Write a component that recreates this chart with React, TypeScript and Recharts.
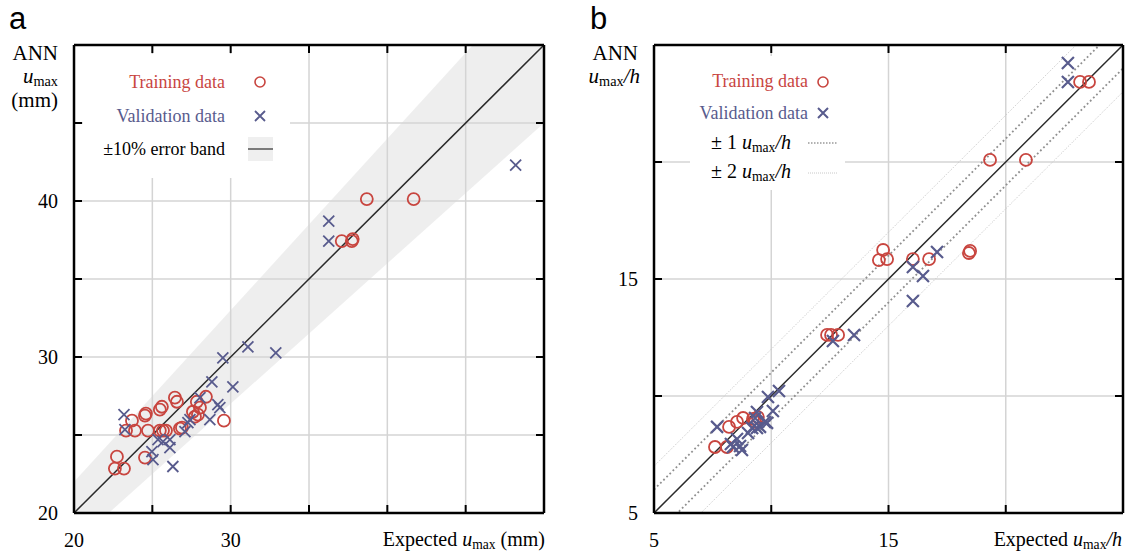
import React from "react";
import {
  ComposedChart,
  Scatter,
  Line,
  Area,
  XAxis,
  YAxis,
  ReferenceLine,
} from "recharts";

// panel a: u_max in mm
const trainingA = [
  { x: 22.74, y: 23.61 }, { x: 22.61, y: 22.85 }, { x: 23.19, y: 22.85 },
  { x: 23.32, y: 25.28 }, { x: 23.7, y: 25.92 }, { x: 23.89, y: 25.28 },
  { x: 24.53, y: 26.24 }, { x: 24.59, y: 26.37 }, { x: 24.72, y: 25.28 },
  { x: 24.53, y: 23.55 }, { x: 25.48, y: 26.62 }, { x: 25.61, y: 26.81 },
  { x: 26.44, y: 27.39 }, { x: 26.57, y: 27.13 }, { x: 25.48, y: 25.28 },
  { x: 25.68, y: 25.28 }, { x: 25.87, y: 25.28 }, { x: 26.76, y: 25.41 },
  { x: 26.89, y: 25.47 }, { x: 27.59, y: 26.49 }, { x: 27.84, y: 27.13 },
  { x: 28.04, y: 26.75 }, { x: 27.72, y: 26.17 }, { x: 27.91, y: 26.3 },
  { x: 28.42, y: 27.45 }, { x: 29.57, y: 25.92 }, { x: 38.69, y: 40.12 },
  { x: 41.68, y: 40.12 }, { x: 37.09, y: 37.43 }, { x: 37.73, y: 37.43 },
  { x: 37.79, y: 37.56 },
];

const validationA = [
  { x: 23.19, y: 26.3 }, { x: 23.25, y: 25.34 }, { x: 25.36, y: 24.7 },
  { x: 25.68, y: 24.57 }, { x: 24.97, y: 23.93 }, { x: 25.04, y: 23.42 },
  { x: 26.12, y: 24.7 }, { x: 26.12, y: 24.19 }, { x: 26.31, y: 22.98 },
  { x: 27.08, y: 25.21 }, { x: 27.27, y: 25.79 }, { x: 27.4, y: 25.98 },
  { x: 28.04, y: 27.39 }, { x: 28.67, y: 25.98 }, { x: 29.18, y: 26.94 },
  { x: 29.31, y: 26.75 }, { x: 30.14, y: 28.09 }, { x: 28.8, y: 28.41 },
  { x: 29.5, y: 29.95 }, { x: 31.1, y: 30.65 }, { x: 32.88, y: 30.27 },
  { x: 36.26, y: 38.71 }, { x: 36.26, y: 37.43 }, { x: 48.19, y: 42.3 },
];

// panel b: u_max / h
const trainingB = [
  { x: 7.6, y: 7.82 }, { x: 8.11, y: 7.82 }, { x: 8.2, y: 8.68 },
  { x: 8.54, y: 8.89 }, { x: 8.8, y: 9.06 }, { x: 9.22, y: 9.02 },
  { x: 9.43, y: 9.1 }, { x: 9.31, y: 8.89 }, { x: 12.38, y: 12.61 },
  { x: 12.55, y: 12.61 }, { x: 12.85, y: 12.61 }, { x: 14.59, y: 15.81 },
  { x: 14.77, y: 16.24 }, { x: 14.94, y: 15.85 }, { x: 16.04, y: 15.85 },
  { x: 16.73, y: 15.85 }, { x: 18.48, y: 16.2 }, { x: 18.43, y: 16.11 },
  { x: 19.33, y: 20.09 }, { x: 20.86, y: 20.09 }, { x: 23.17, y: 23.42 },
  { x: 23.55, y: 23.42 },
];

const validationB = [
  { x: 7.69, y: 8.68 }, { x: 8.28, y: 7.95 }, { x: 8.37, y: 7.82 },
  { x: 8.54, y: 8.16 }, { x: 8.75, y: 7.69 }, { x: 8.67, y: 7.86 },
  { x: 9.01, y: 8.42 }, { x: 9.18, y: 8.63 }, { x: 9.39, y: 8.63 },
  { x: 9.31, y: 9.06 }, { x: 9.39, y: 9.32 }, { x: 9.52, y: 8.68 },
  { x: 9.73, y: 8.89 }, { x: 9.82, y: 8.85 }, { x: 10.07, y: 9.36 },
  { x: 9.86, y: 9.96 }, { x: 10.33, y: 10.21 }, { x: 12.63, y: 12.35 },
  { x: 13.53, y: 12.61 }, { x: 16.04, y: 14.06 }, { x: 16.04, y: 15.51 },
  { x: 16.47, y: 15.13 }, { x: 17.07, y: 16.15 }, { x: 22.65, y: 24.23 },
  { x: 22.65, y: 23.42 },
];

const domainA: [number, number] = [20, 50];
const gridA = [20, 25, 30, 35, 40, 45, 50];
const xLabelsA = [20, 30];
const yLabelsA = [20, 30, 40];

const domainB: [number, number] = [5, 25];
const gridB = [5, 10, 15, 20, 25];
const xLabelsB = [5, 15];
const yLabelsB = [5, 15];

const bandPct = 0.1;
const offsetsB = [1, 2];

// reference lines / band, evaluated at the domain ends
const refA = domainA.map((x) => ({
  x,
  diag: x,
  band: [x * (1 - bandPct), x * (1 + bandPct)],
}));
const refB = domainB.map((x) => ({
  x,
  diag: x,
  p1: x + offsetsB[0],
  m1: x - offsetsB[0],
  p2: x + offsetsB[1],
  m2: x - offsetsB[1],
}));

const RED = "#c8453f";
const BLUE = "#585b8d";
const SERIF = '"Liberation Serif", "Times New Roman", serif';
const SANS = '"Liberation Sans", Arial, sans-serif';

const tickFont = { fill: "#000", fontSize: 20, fontFamily: SERIF };
const serif = { fontFamily: SERIF };
const GRID = "#d4d4d4";

const ring = (r: number, w: number) => (p: any) =>
  <circle cx={p.cx} cy={p.cy} r={r} fill="none" stroke={RED} strokeWidth={w} />;

const cross = (s: number, w: number) => (p: any) =>
  (
    <path
      d={`M${p.cx - s},${p.cy - s}L${p.cx + s},${p.cy + s}M${p.cx - s},${p.cy + s}L${p.cx + s},${p.cy - s}`}
      stroke={BLUE}
      strokeWidth={w}
      fill="none"
    />
  );

const noLabel = () => <g />;

// tiny non-zero sizes: axes with 0 width/height are not drawn at all
const THIN = 0.01;

function gridLines(grid: number[]) {
  return [
    ...grid.map((v) => (
      <ReferenceLine key={"gx" + v} x={v} stroke={GRID} strokeWidth={1.5} ifOverflow="visible" />
    )),
    ...grid.map((v) => (
      <ReferenceLine key={"gy" + v} y={v} stroke={GRID} strokeWidth={1.5} ifOverflow="visible" />
    )),
  ];
}

function frameAxes(domain: [number, number], grid: number[], xLabels: number[], yLabels: number[]) {
  const common = {
    type: "number" as const,
    domain,
    ticks: grid,
    allowDataOverflow: true,
    mirror: true,
    tick: noLabel,
    tickSize: 8,
    interval: 0 as const,
    stroke: "#000",
    axisLine: { stroke: "#000", strokeWidth: 2.5 },
    tickLine: { stroke: "#000", strokeWidth: 2 },
  };
  return [
    <XAxis key="xb" dataKey="x" height={THIN} {...common} />,
    <XAxis key="xt" xAxisId="t" orientation="top" dataKey="x" height={THIN} {...common} />,
    <YAxis key="yl" width={THIN} {...common} />,
    <YAxis key="yr" yAxisId="r" orientation="right" dataKey="diag" width={THIN} {...common} />,
    <XAxis
      key="xlab"
      xAxisId="lab"
      dataKey="x"
      type="number"
      domain={domain}
      ticks={xLabels}
      interval={0}
      height={THIN}
      tickSize={0}
      tickMargin={20}
      axisLine={false}
      tickLine={false}
      tick={tickFont}
    />,
    <YAxis
      key="ylab"
      yAxisId="lab"
      dataKey="diag"
      type="number"
      domain={domain}
      ticks={yLabels}
      interval={0}
      width={THIN}
      tickSize={0}
      tickMargin={16}
      axisLine={false}
      tickLine={false}
      tick={tickFont}
    />,
  ];
}

function Umax({ size = 20 }: { size?: number }) {
  return (
    <>
      <tspan fontStyle="italic">u</tspan>
      <tspan fontSize={size * 0.68} dy={3}>max</tspan>
    </>
  );
}

export default function App() {
  return (
    <div style={{ position: "absolute", left: 0, top: 0, width: 1131, height: 554, background: "#fff" }}>
      <div style={{ position: "absolute", left: 0, top: 0 }}>
        <ComposedChart
          width={565}
          height={554}
          data={refA}
          margin={{ top: 45, right: 21, bottom: 41, left: 74 }}
        >
          {gridLines(gridA)}
          <Area
            dataKey="band"
            type="linear"
            fill="#000"
            fillOpacity={0.065}
            stroke="none"
            dot={false}
            activeDot={false}
            isAnimationActive={false}
          />
          <Line
            dataKey="diag"
            type="linear"
            stroke="#2a2a2a"
            strokeWidth={1.5}
            dot={false}
            activeDot={false}
            isAnimationActive={false}
          />
          <Scatter data={trainingA} dataKey="y" shape={ring(6, 1.8)} isAnimationActive={false} />
          <Scatter data={validationA} dataKey="y" shape={cross(5.5, 1.8)} isAnimationActive={false} />
          {frameAxes(domainA, gridA, xLabelsA, yLabelsA)}
        </ComposedChart>
      </div>

      <div style={{ position: "absolute", left: 580, top: 0 }}>
        <ComposedChart
          width={551}
          height={554}
          data={refB}
          margin={{ top: 45, right: 8, bottom: 41, left: 74 }}
        >
          {gridLines(gridB)}
          <Line dataKey="p2" type="linear" stroke="#c4c4c4" strokeWidth={1} strokeDasharray="1 1.5" dot={false} activeDot={false} isAnimationActive={false} />
          <Line dataKey="m2" type="linear" stroke="#c4c4c4" strokeWidth={1} strokeDasharray="1 1.5" dot={false} activeDot={false} isAnimationActive={false} />
          <Line dataKey="p1" type="linear" stroke="#8f8f8f" strokeWidth={1.8} strokeDasharray="1.8 2.6" dot={false} activeDot={false} isAnimationActive={false} />
          <Line dataKey="m1" type="linear" stroke="#8f8f8f" strokeWidth={1.8} strokeDasharray="1.8 2.6" dot={false} activeDot={false} isAnimationActive={false} />
          <Line dataKey="diag" type="linear" stroke="#2a2a2a" strokeWidth={1.5} dot={false} activeDot={false} isAnimationActive={false} />
          <Scatter data={trainingB} dataKey="y" shape={ring(6, 1.8)} isAnimationActive={false} />
          <Scatter data={validationB} dataKey="y" shape={cross(6, 2.2)} isAnimationActive={false} />
          {frameAxes(domainB, gridB, xLabelsB, yLabelsB)}
        </ComposedChart>
      </div>

      <svg
        width={1131}
        height={554}
        style={{ position: "absolute", left: 0, top: 0, pointerEvents: "none", fontFamily: SERIF }}
      >
        {/* panel a labels */}
        <text x={9} y={29} style={{ fontFamily: SANS }} fontSize={31} fill="#000">a</text>
        <text x={58} y={60} style={serif} fontSize={21} textAnchor="end">ANN</text>
        <text x={58} y={83} style={serif} fontSize={21} textAnchor="end"><Umax size={21} /></text>
        <text x={58} y={107} style={serif} fontSize={21} textAnchor="end">(mm)</text>
        <text x={545} y={546} style={serif} fontSize={20} textAnchor="end">
          Expected <Umax size={20} />
          <tspan dy={-3}> (mm)</tspan>
        </text>

        {/* panel a legend */}
        <rect x={83} y={54} width={207} height={124} fill="#fff" />
        <text x={225} y={88} style={serif} fontSize={18} fill={RED} textAnchor="end">Training data</text>
        <circle cx={260} cy={82} r={5} fill="none" stroke={RED} strokeWidth={1.6} />
        <text x={225} y={122} style={serif} fontSize={18} fill={BLUE} textAnchor="end">Validation data</text>
        <path d="M255,111L265,121M255,121L265,111" stroke={BLUE} strokeWidth={1.8} />
        <text x={225} y={155} style={serif} fontSize={18} fill="#000" textAnchor="end">±10% error band</text>
        <rect x={248} y={137} width={25} height={24} fill="#efefef" />
        <line x1={248} x2={273} y1={149} y2={149} stroke="#555" strokeWidth={1.5} />

        {/* panel b labels */}
        <text x={590} y={29} style={{ fontFamily: SANS }} fontSize={31} fill="#000">b</text>
        <text x={638} y={60} style={serif} fontSize={21} textAnchor="end">ANN</text>
        <text x={640} y={83} style={serif} fontSize={21} textAnchor="end">
          <Umax size={21} />
          <tspan dy={-3} fontStyle="italic">/h</tspan>
        </text>
        <text x={1122} y={546} style={serif} fontSize={20} textAnchor="end">
          Expected <Umax size={20} />
          <tspan dy={-3} fontStyle="italic">/h</tspan>
        </text>

        {/* panel b legend */}
        <rect x={690} y={56} width={155} height={134} fill="#fff" />
        <text x={808} y={87} style={serif} fontSize={18} fill={RED} textAnchor="end">Training data</text>
        <circle cx={823} cy={82} r={5} fill="none" stroke={RED} strokeWidth={1.6} />
        <text x={808} y={119} style={serif} fontSize={18} fill={BLUE} textAnchor="end">Validation data</text>
        <path d="M818,108L828,118M818,118L828,108" stroke={BLUE} strokeWidth={2} />
        <text x={711} y={149} style={serif} fontSize={20}>
          ± 1 <Umax size={20} />
          <tspan dy={-3} fontStyle="italic">/h</tspan>
        </text>
        <line x1={808} x2={838} y1={143} y2={143} stroke="#999" strokeWidth={1.3} strokeDasharray="1.5 1.5" />
        <text x={711} y={178} style={serif} fontSize={20}>
          ± 2 <Umax size={20} />
          <tspan dy={-3} fontStyle="italic">/h</tspan>
        </text>
        <line x1={808} x2={838} y1={173} y2={173} stroke="#c8c8c8" strokeWidth={1} strokeDasharray="1 1" />
      </svg>
    </div>
  );
}
